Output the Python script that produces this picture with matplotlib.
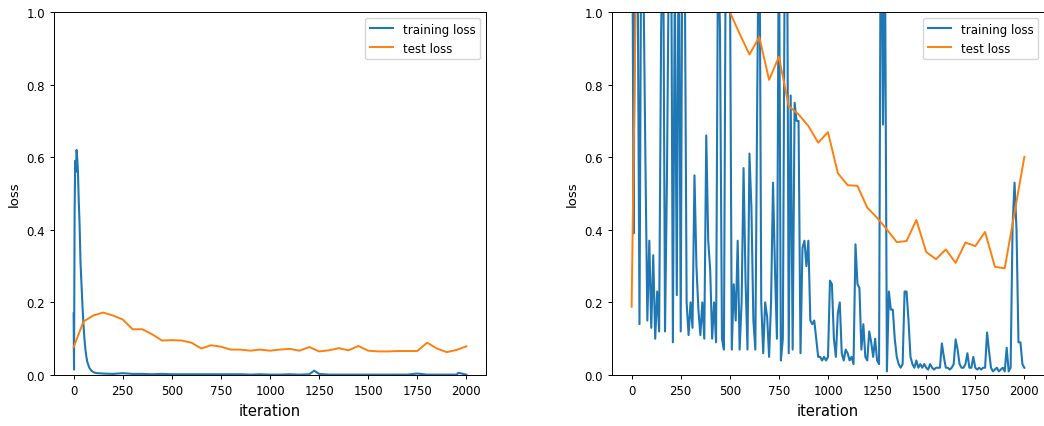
import numpy as np
import matplotlib
matplotlib.use('Agg')
import matplotlib.pyplot as plt

# ---- left run: training loss (dense at the start, sparse tail) ----
left_train_iter = [0, 2, 5, 8, 12, 15, 18, 22, 26, 30, 35, 40, 45, 50, 55, 60, 65, 70,
                   80, 90, 100, 110, 120,
                   150, 200, 250, 300, 350, 400, 450, 500, 550, 600, 650, 700, 750, 800,
                   850, 900, 950, 1000, 1050, 1100, 1150, 1200, 1225, 1250, 1300, 1350,
                   1400, 1450, 1500, 1550, 1600, 1650, 1700, 1750, 1800, 1850, 1900,
                   1950, 1960, 2000]
left_train_loss = [0.17, 0.015, 0.45, 0.59, 0.56, 0.62, 0.60, 0.56, 0.48, 0.42, 0.31, 0.25,
                   0.19, 0.14, 0.10, 0.07, 0.05, 0.035, 0.02, 0.012, 0.008, 0.006, 0.005,
                   0.004, 0.003, 0.005, 0.003, 0.003, 0.002, 0.003, 0.002, 0.002, 0.002,
                   0.002, 0.002, 0.002, 0.002, 0.002, 0.001, 0.002, 0.001, 0.001, 0.002,
                   0.001, 0.002, 0.012, 0.003, 0.001, 0.001, 0.001, 0.001, 0.001, 0.001,
                   0.001, 0.001, 0.001, 0.004, 0.001, 0.001, 0.001, 0.001, 0.006, 0.001]

# test loss is logged every 50 iterations
test_iter = list(range(0, 2001, 50))
left_test_loss = [0.077, 0.147, 0.164, 0.172, 0.164, 0.153, 0.126, 0.126, 0.112, 0.095,
                  0.096, 0.095, 0.089, 0.073, 0.082, 0.078, 0.070, 0.070, 0.067, 0.070,
                  0.067, 0.070, 0.072, 0.067, 0.077, 0.065, 0.068, 0.074, 0.068, 0.080,
                  0.067, 0.065, 0.065, 0.066, 0.066, 0.066, 0.089, 0.073, 0.063, 0.069,
                  0.079]

# ---- right run: training loss every 10 iterations ----
right_train_iter = list(range(0, 2001, 10))
right_train_loss = [
    1.8, 0.39, 1.5, 1.2, 0.14, 1.4, 1.1, 0.60, 0.15, 0.37,        # 0-90
    0.13, 0.33, 0.10, 0.23, 0.12, 0.94, 1.3, 0.12, 0.55, 1.2,     # 100-190
    1.4, 0.09, 1.1, 0.22, 1.3, 0.12, 1.5, 1.2, 0.20, 0.11,        # 200-290
    0.20, 0.13, 0.55, 0.30, 0.18, 0.11, 0.20, 0.10, 0.66, 0.37,   # 300-390
    0.29, 0.10, 0.20, 0.09, 1.2, 0.95, 0.10, 0.07, 1.3, 1.1,      # 400-490
    1.2, 0.07, 0.25, 0.15, 0.37, 0.07, 0.20, 0.57, 0.26, 0.07,    # 500-590
    0.61, 0.46, 0.15, 0.07, 0.79, 1.4, 0.20, 0.06, 0.20, 0.16,    # 600-690
    0.05, 0.20, 0.53, 0.29, 0.10, 1.3, 0.04, 0.10, 1.2, 1.5,      # 700-790
    0.06, 0.77, 0.07, 0.75, 0.70, 0.70, 0.06, 0.35, 0.37, 0.30,   # 800-890
    0.37, 0.15, 0.14, 0.15, 0.10, 0.05, 0.05, 0.04, 0.05, 0.04,   # 900-990
    0.05, 0.26, 0.25, 0.10, 0.05, 0.17, 0.20, 0.06, 0.04, 0.07,   # 1000-1090
    0.06, 0.04, 0.05, 0.03, 0.36, 0.25, 0.24, 0.07, 0.14, 0.05,   # 1100-1190
    0.04, 0.12, 0.09, 0.05, 0.10, 0.04, 0.03, 1.5, 0.69, 1.2,     # 1200-1290
    0.01, 0.23, 0.18, 0.18, 0.10, 0.05, 0.03, 0.02, 0.03, 0.23,   # 1300-1390
    0.23, 0.15, 0.05, 0.03, 0.02, 0.04, 0.02, 0.03, 0.02, 0.03,   # 1400-1490
    0.02, 0.015, 0.03, 0.02, 0.015, 0.02, 0.02, 0.02, 0.087, 0.05,  # 1500-1590
    0.02, 0.02, 0.015, 0.02, 0.03, 0.098, 0.07, 0.03, 0.02, 0.02,   # 1600-1690
    0.03, 0.06, 0.02, 0.02, 0.05, 0.02, 0.015, 0.02, 0.015, 0.02,   # 1700-1790
    0.02, 0.117, 0.066, 0.02, 0.01, 0.015, 0.02, 0.01, 0.015, 0.02, # 1800-1890
    0.01, 0.075, 0.01, 0.02, 0.41, 0.53, 0.40, 0.09, 0.09, 0.03,    # 1900-1990
    0.02]                                                           # 2000

right_test_loss = [0.188, 2.2, 1.9, 1.7, 1.6, 1.5, 1.4, 1.3, 1.2, 1.1,
                   1.0, 0.94, 0.883, 0.931, 0.813, 0.877, 0.741, 0.718, 0.686, 0.640,
                   0.669, 0.556, 0.523, 0.521, 0.461, 0.433, 0.401, 0.366, 0.369, 0.427,
                   0.339, 0.319, 0.346, 0.309, 0.365, 0.355, 0.394, 0.298, 0.294, 0.447,
                   0.601]

W, H = 1044, 427
fig = plt.figure(figsize=(W / 100, H / 100), dpi=100)
ax_left = fig.add_axes([54 / W, (H - 376) / H, 432 / W, 363 / H])
ax_right = fig.add_axes([612 / W, (H - 376) / H, 432 / W, 363 / H])

runs = [(ax_left, left_train_iter, left_train_loss, left_test_loss),
        (ax_right, right_train_iter, right_train_loss, right_test_loss)]

for ax, tr_it, tr_loss, te_loss in runs:
    ax.plot(tr_it, tr_loss, color='#1f77b4', lw=1.5, label='training loss')
    ax.plot(test_iter, te_loss, color='#ff7f0e', lw=1.4, label='test loss')
    ax.set_xlim(-100, 2100)
    ax.set_ylim(0, 1.0)
    ax.set_xticks([0, 250, 500, 750, 1000, 1250, 1500, 1750, 2000])
    ax.tick_params(labelsize=8.5, width=0.7, length=3)
    for s in ax.spines.values():
        s.set_linewidth(0.7)
    ax.set_xlabel('iteration', fontsize=10.5)
    ax.set_ylabel('loss', fontsize=9.5)
    ax.legend(loc='upper right', fontsize=8.5)

fig.savefig('out.png', dpi=100)
